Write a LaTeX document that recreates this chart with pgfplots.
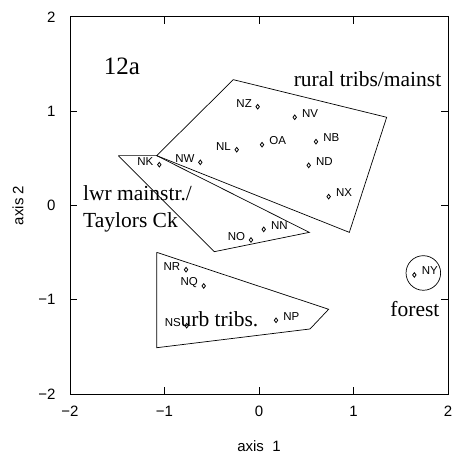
\documentclass[border=0pt]{standalone}
\usepackage{fontspec}
\setmainfont{Liberation Sans}
\newfontfamily\serifl{Liberation Serif}
\usepackage{pgfplots}
\pgfplotsset{compat=1.18}
\usepackage{pgfplotstable}

\pgfplotstableread{
x y label
0.378 0.936 NV
0.603 0.677 NB
0.032 0.645 OA
0.526 0.426 ND
0.737 0.094 NX
0.050 -0.253 NN
0.180 -1.218 NP
1.644 -0.737 NY
}\rightpts

\pgfplotstableread{
x y label
-0.014 1.048 NZ
-0.236 0.592 NL
-0.621 0.458 NW
-1.055 0.433 NK
-0.085 -0.366 NO
-0.772 -0.681 NR
-0.585 -0.854 NQ
-0.765 -1.275 NS
}\leftpts

\begin{document}
\begin{tikzpicture}
\begin{axis}[
  scale only axis,
  width=378pt, height=377pt,
  xmin=-2, xmax=2, ymin=-2, ymax=2,
  xtick={-2,-1,0,1,2}, ytick={-2,-1,0,1,2},
  xticklabels={−2,−1,0,1,2},
  yticklabels={−2,−1,0,1,2},
  tick align=inside,
  major tick length=7pt,
  tick style={line width=1pt, black},
  axis line style={line width=1pt},
  every axis/.append style={line width=1pt},
  tick label style={font=\fontsize{15}{18}\selectfont},
  xticklabel style={anchor=north, inner sep=0pt, yshift=-11.4pt},
  yticklabel style={anchor=east, inner sep=0pt, xshift=-14pt},
  xlabel={axis\ \ 1},
  ylabel={axis 2},
  label style={font=\fontsize{15}{18}\selectfont},
  xlabel style={at={(axis description cs:0.5,-0.122)}, anchor=north, inner sep=0pt},
  ylabel style={at={(axis description cs:-0.1217,0.5)}, anchor=south, inner sep=0pt},
  clip=false,
]
% groups
\addplot[black, line width=0.7pt, mark=none] coordinates {(-0.272,1.335) (1.351,0.936) (0.956,-0.285) (-1.083,0.529) (-0.272,1.335)};
\addplot[black, line width=0.7pt, mark=none] coordinates {(-1.489,0.529) (-1.083,0.529) (0.532,-0.285) (-0.473,-0.490) (-1.489,0.529)};
\addplot[black, line width=0.7pt, mark=none] coordinates {(-1.083,-0.497) (0.737,-1.101) (0.540,-1.310) (-1.083,-1.509) (-1.083,-0.497)};
\draw[black, line width=0.7pt] (axis cs:1.739,-0.716) circle [radius=17.3pt];
% points
\addplot[only marks, mark=diamond, mark size=2.3pt, mark options={line width=0.8pt, fill=white},
  point meta=explicit symbolic, nodes near coords,
  nodes near coords style={anchor=west, inner sep=0pt, xshift=7pt, yshift=4pt, font=\fontsize{11.5}{13}\selectfont}]
  table[x=x, y=y, meta=label] {\rightpts};
\addplot[only marks, mark=diamond, mark size=2.3pt, mark options={line width=0.8pt, fill=white},
  point meta=explicit symbolic, nodes near coords,
  nodes near coords style={anchor=east, inner sep=0pt, xshift=-5.5pt, yshift=3.5pt, font=\fontsize{11.5}{13}\selectfont}]
  table[x=x, y=y, meta=label] {\leftpts};
% texts
\node[anchor=base west, inner sep=0pt, font=\serifl\fontsize{25}{30}\selectfont] at (axis cs:-1.648,1.385) {12a};
\node[anchor=base west, inner sep=0pt, font=\serifl\fontsize{21.5}{26}\selectfont] at (axis cs:0.363,1.260) {rural tribs/mainst};
\node[anchor=base west, inner sep=0pt, font=\serifl\fontsize{21.5}{26}\selectfont] at (axis cs:-1.866,0.048) {lwr mainstr./};
\node[anchor=base west, inner sep=0pt, font=\serifl\fontsize{21.5}{26}\selectfont] at (axis cs:-1.866,-0.236) {Taylors Ck};
\node[anchor=base west, inner sep=0pt, font=\serifl\fontsize{21.5}{26}\selectfont] at (axis cs:-0.834,-1.279) {urb tribs.};
\node[anchor=base west, inner sep=0pt, font=\serifl\fontsize{21.5}{26}\selectfont] at (axis cs:1.386,-1.183) {forest};
\end{axis}
\pgfresetboundingbox
\path[use as bounding box] ([xshift=-70pt,yshift=-62pt]current axis.south west) rectangle ([xshift=3.3pt,yshift=17pt]current axis.north east);
\end{tikzpicture}
\end{document}
